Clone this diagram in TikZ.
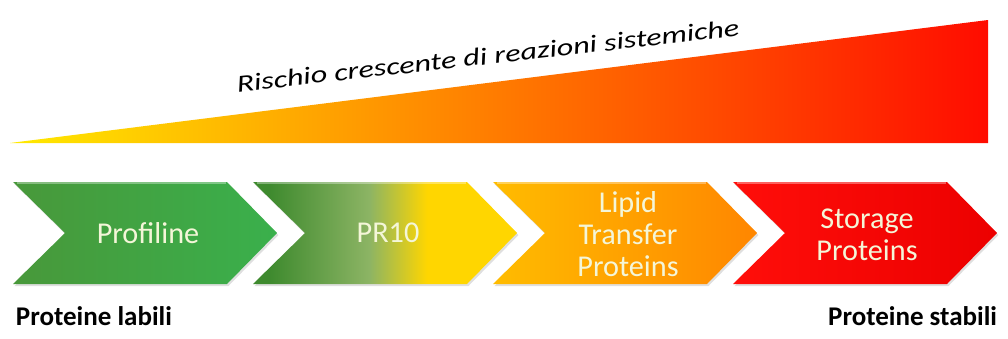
\documentclass[tikz,border=0pt]{standalone}
\usepackage{fontspec}
\setmainfont{Carlito}
\usepackage{tikz}
\usetikzlibrary{shadows}
\usepackage{xcolor}

\definecolor{wYellow}{RGB}{255,234,0}
\definecolor{wOrange}{RGB}{255,164,0}
\definecolor{wRed}{RGB}{255,12,0}
\definecolor{gDark}{RGB}{72,152,58}
\definecolor{gPale}{RGB}{160,196,120}
\definecolor{gMid}{RGB}{58,176,76}
\definecolor{pDark}{RGB}{62,138,46}
\definecolor{pPale}{RGB}{140,180,100}
\definecolor{pYellow}{RGB}{255,214,0}
\definecolor{lYellow}{RGB}{255,188,0}
\definecolor{lOrange}{RGB}{255,134,0}
\definecolor{sRed}{RGB}{255,14,10}
\definecolor{sDark}{RGB}{236,0,0}
\definecolor{chevText}{RGB}{244,246,216}

% horizontal shading for the PR10 arrow (25bp = left edge, 75bp = right edge)
\pgfdeclarehorizontalshading{prshade}{100bp}{color(0bp)=(pDark); color(28bp)=(pDark); color(47bp)=(pPale); color(58bp)=(pYellow); color(100bp)=(pYellow)}

\begin{document}
\begin{tikzpicture}[x=0.025cm, y=0.025cm,
  chevron/.style={drop shadow={opacity=0.25, shadow xshift=1pt, shadow yshift=-1.5pt}},
  gloss/.style={white, opacity=0.35, line width=1.2pt},
  chevlabel/.style={text=chevText, font=\fontsize{21.5}{23}\selectfont, align=center},
  sidelabel/.style={font=\bfseries\fontsize{19.2}{22}\selectfont}]
\useasboundingbox (0,0) rectangle (1008,338);

% risk wedge
\shade[left color=wYellow, middle color=wOrange, right color=wRed] (10,195)--(988,195)--(988,318)--cycle;
\node[anchor=base west, rotate=6.4, xscale=1.32, transform shape, font=\itshape\fontsize{17.3}{20}\selectfont] (risk) at (231,245) {Rischio crescente di reazioni sistemiche};

% chevrons
\begin{scope}[shift={(13,0)}] {
\shade[chevron, left color=gDark, middle color=gPale, right color=gMid] (0,156)--++(214,0)--++(50,-51)--++(-50,-51)--++(-214,0)--++(52,51)--cycle;
\draw[gloss] (4,155)--++(209,0);
\node[chevlabel] (prof) at (135,105) {Profiline};
}\end{scope}

\begin{scope}[shift={(253,0)}] {
\shade[chevron, shading=prshade] (0,156)--++(214,0)--++(50,-51)--++(-50,-51)--++(-214,0)--++(52,51)--cycle;
\draw[gloss] (4,155)--++(209,0);
\node[chevlabel] (pr) at (135,105) {PR10};
}\end{scope}

\begin{scope}[shift={(493,0)}] {
\shade[chevron, left color=lYellow, right color=lOrange] (0,156)--++(214,0)--++(50,-51)--++(-50,-51)--++(-214,0)--++(52,51)--cycle;
\draw[gloss] (4,155)--++(209,0);
\node[chevlabel] (ltp) at (135,104) {Lipid\\Transfer\\Proteins};
}\end{scope}

\begin{scope}[shift={(733,0)}] {
\shade[chevron, left color=sRed, right color=sDark] (0,156)--++(214,0)--++(50,-51)--++(-50,-51)--++(-214,0)--++(52,51)--cycle;
\draw[gloss] (4,155)--++(209,0);
\node[chevlabel] (stor) at (134,103) {Storage\\Proteins};
}\end{scope}

% stability labels
\node[sidelabel, anchor=base west] (labili) at (11,13) {Proteine labili};
\node[sidelabel, anchor=base east] (stabili) at (1002,13) {Proteine stabili};

\end{tikzpicture}
\end{document}
